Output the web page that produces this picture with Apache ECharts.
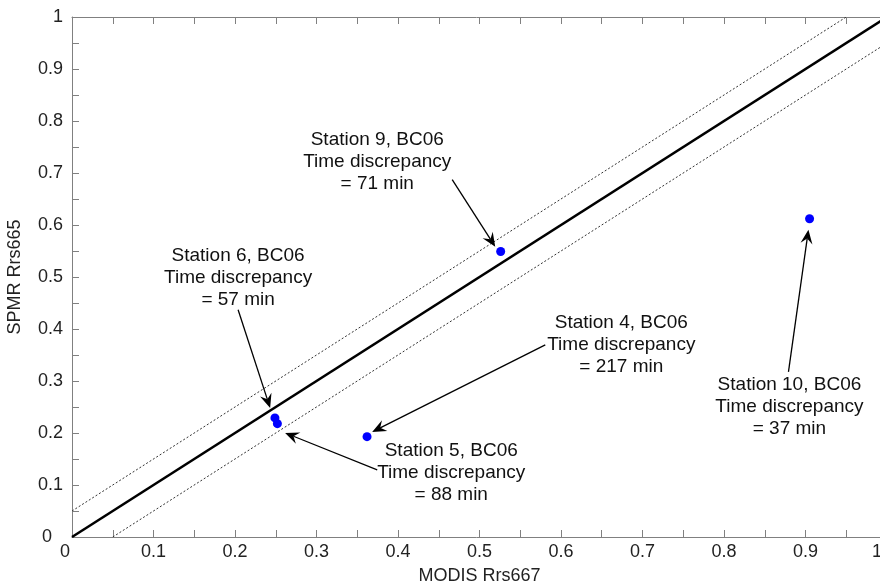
<!DOCTYPE html>
<html>
<head>
<meta charset="utf-8">
<script src="https://cdn.jsdelivr.net/npm/echarts@6/dist/echarts.min.js"></script>
<style>
html,body{margin:0;padding:0;background:#fff;}
#chart{width:880px;height:585px;}
</style>
</head>
<body>
<div id="chart"></div>
<script>
// ---- data ----
var xAxisName = 'MODIS Rrs667';
var yAxisName = 'SPMR Rrs665';
var stationPoints = [[0.249, 0.229], [0.252, 0.218], [0.362, 0.193], [0.526, 0.549], [0.905, 0.612]];
var oneToOne = [[0, 0], [1, 1]];
var upperBound = [[0, 0.05], [0.95, 1]];
var lowerBound = [[0.05, 0], [1, 0.95]];
var annotationTexts = [
  'Station 9, BC06\nTime discrepancy\n= 71 min',
  'Station 6, BC06\nTime discrepancy\n= 57 min',
  'Station 4, BC06\nTime discrepancy\n= 217 min',
  'Station 5, BC06\nTime discrepancy\n= 88 min',
  'Station 10, BC06\nTime discrepancy\n= 37 min'
];
var annotationAt = [[0.3745, 0.7218], [0.2038, 0.4986], [0.674, 0.3696], [0.4653, 0.1232], [0.8803, 0.2502]];
var arrowFrom = [[0.4665, 0.6872], [0.2038, 0.4370], [0.5807, 0.3696], [0.3745, 0.1290], [0.8791, 0.3176]];
var arrowTo = [[0.5193, 0.5582], [0.2431, 0.2483], [0.3683, 0.2021], [0.2615, 0.2002], [0.9036, 0.5910]];

// ---- chart ----
var FONT = 'Liberation Sans, Arial, sans-serif';
var AXIS_COLOR = '#808080';
var chart = echarts.init(document.getElementById('chart'), null, {renderer: 'canvas'});

function fmt(v) {
  return (+v.toFixed(2)).toString();
}

function makeAxis(pos, showLabel, isX) {
  return {
    type: 'value', min: 0, max: 1, interval: 0.1, position: pos,
    axisLine: {show: true, onZero: false, lineStyle: {color: AXIS_COLOR, width: 1}},
    axisTick: {show: true, inside: true, length: 7, lineStyle: {color: AXIS_COLOR}},
    minorTick: {show: true, splitNumber: 2, length: 7, lineStyle: {color: AXIS_COLOR}},
    splitLine: {show: false},
    axisLabel: {
      show: showLabel, color: '#222', fontFamily: FONT, fontSize: 18,
      margin: isX ? 6 : 9,
      hideOverlap: false,
      formatter: function (v) {
        if (Math.abs(v) < 1e-9) return '{z|0}';
        if (isX && Math.abs(v - 1) < 1e-9) return '{e|1}';
        return fmt(v);
      },
      rich: {
        z: {fontFamily: FONT, fontSize: 18, color: '#222', padding: isX ? [0, 14, 0, 0] : [0, 11, 0, 0]},
        e: {fontFamily: FONT, fontSize: 18, color: '#222', padding: [0, 20, 0, 0]}
      }
    },
    name: showLabel ? (isX ? xAxisName : yAxisName) : '',
    nameLocation: 'middle',
    nameGap: isX ? 30 : 48,
    nameTextStyle: {color: '#222', fontFamily: FONT, fontSize: 18}
  };
}

var annData = annotationTexts.map(function (t, i) { return [annotationAt[i][0], annotationAt[i][1], i]; });
var arrowData = arrowFrom.map(function (f, i) { return [f[0], f[1], arrowTo[i][0], arrowTo[i][1]]; });

var option = {
  animation: false,
  backgroundColor: '#fff',
  grid: {left: 72, top: 17, width: 815, height: 520, containLabel: false, outerBoundsMode: 'none'},
  xAxis: [makeAxis('bottom', true, true), makeAxis('top', false, true)],
  yAxis: [makeAxis('left', true, false), makeAxis('right', false, false)],
  series: [
    {type: 'line', data: upperBound, showSymbol: false, symbol: 'none',
     lineStyle: {color: '#333', width: 1, type: [2, 2]}, z: 2},
    {type: 'line', data: lowerBound, showSymbol: false, symbol: 'none',
     lineStyle: {color: '#333', width: 1, type: [2, 2]}, z: 2},
    {type: 'line', data: oneToOne, showSymbol: false, symbol: 'none',
     lineStyle: {color: '#000', width: 2.6}, z: 3},
    {type: 'scatter', data: stationPoints, symbol: 'circle', symbolSize: 9,
     itemStyle: {color: '#0000ff', opacity: 1}, z: 5},
    {type: 'custom', data: arrowData, z: 6, clip: false,
     renderItem: function (params, api) {
       var p0 = api.coord([api.value(0), api.value(1)]);
       var p1 = api.coord([api.value(2), api.value(3)]);
       var dx = p1[0] - p0[0], dy = p1[1] - p0[1];
       var len = Math.sqrt(dx * dx + dy * dy);
       var ux = dx / len, uy = dy / len;
       var nx = -uy, ny = ux;
       var L = 14, W = 6, notch = 9;
       var bx = p1[0] - ux * L, by = p1[1] - uy * L;
       var mx = p1[0] - ux * notch, my = p1[1] - uy * notch;
       return {
         type: 'group',
         children: [
           {type: 'line', shape: {x1: p0[0], y1: p0[1], x2: mx, y2: my},
            style: {stroke: '#000', lineWidth: 1.3}},
           {type: 'polygon', shape: {points: [[p1[0], p1[1]], [bx + nx * W, by + ny * W], [mx, my], [bx - nx * W, by - ny * W]]},
            style: {fill: '#000'}}
         ]
       };
     }},
    {type: 'custom', data: annData, z: 7, clip: false,
     renderItem: function (params, api) {
       var p = api.coord([api.value(0), api.value(1)]);
       return {
         type: 'text', x: p[0], y: p[1],
         style: {text: annotationTexts[api.value(2)], font: '19px ' + FONT, fill: '#111',
                 align: 'center', verticalAlign: 'middle', lineHeight: 22}
       };
     }}
  ]
};
chart.setOption(option);
</script>
</body>
</html>
